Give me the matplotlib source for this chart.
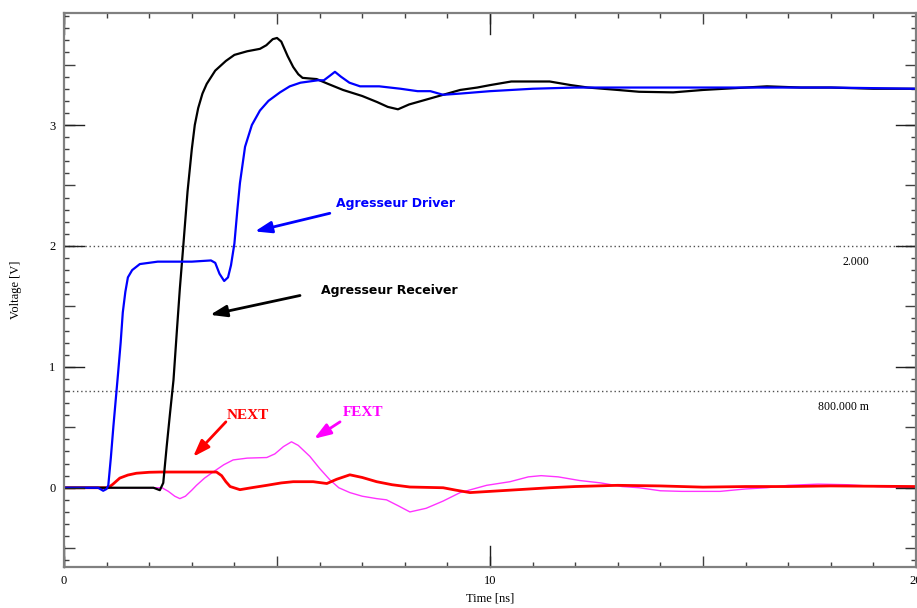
"""Crosstalk simulation: aggressor driver/receiver and NEXT/FEXT waveforms."""

from __future__ import annotations

import matplotlib

matplotlib.use("Agg")
import matplotlib.pyplot as plt
import numpy as np

# time [ns] / voltage [V] samples
DRIVER_T = [0, 0.8, 0.92, 1.0, 1.04, 1.1, 1.16, 1.22, 1.27, 1.33, 1.38, 1.44, 1.5, 1.6, 1.78,
            2.2, 3.0, 3.45, 3.55, 3.65, 3.76, 3.85, 3.92, 4.0, 4.07, 4.13, 4.25, 4.41, 4.6,
            4.8, 5.07, 5.3, 5.55, 5.96, 6.1, 6.25, 6.36, 6.5, 6.7, 6.95, 7.4, 7.9, 8.3, 8.6,
            8.9, 9.3, 10.0, 11.0, 12.0, 14.0, 16.0, 18.0, 20.0]
DRIVER_V = [0, 0, -0.025, -0.01, 0.02, 0.25, 0.51, 0.75, 0.95, 1.2, 1.45, 1.62, 1.74, 1.80, 1.85,
            1.87, 1.87, 1.88, 1.86, 1.77, 1.71, 1.74, 1.84, 2.02, 2.3, 2.52, 2.82, 3.0, 3.12,
            3.2, 3.27, 3.32, 3.35, 3.37, 3.37, 3.41, 3.44, 3.40, 3.35, 3.32, 3.32, 3.30, 3.28,
            3.28, 3.25, 3.26, 3.28, 3.30, 3.31, 3.31, 3.31, 3.31, 3.30]

RECEIVER_T = [0, 2.1, 2.25, 2.33, 2.41, 2.49, 2.57, 2.65, 2.72, 2.8, 2.9, 3.0, 3.07, 3.15, 3.25,
              3.35, 3.55, 3.8, 4.0, 4.3, 4.6, 4.75, 4.9, 5.0, 5.1, 5.25, 5.38, 5.5, 5.6, 5.93,
              6.2, 6.55, 7.0, 7.35, 7.6, 7.84, 8.1, 8.3, 8.6, 8.9, 9.3, 9.7, 10.0, 10.5, 11.4,
              11.9, 12.3, 13.0, 13.5, 14.3, 15.0, 16.0, 16.5, 17.3, 18.0, 19.0, 20.0]
RECEIVER_V = [0, 0, -0.02, 0.04, 0.34, 0.62, 0.89, 1.3, 1.65, 2.0, 2.45, 2.8, 3.0, 3.14, 3.26,
              3.34, 3.45, 3.53, 3.58, 3.61, 3.63, 3.66, 3.71, 3.72, 3.69, 3.57, 3.48, 3.42, 3.39,
              3.38, 3.34, 3.29, 3.24, 3.19, 3.15, 3.13, 3.17, 3.19, 3.22, 3.25, 3.29, 3.31, 3.33,
              3.36, 3.36, 3.33, 3.31, 3.29, 3.275, 3.27, 3.29, 3.31, 3.32, 3.31, 3.31, 3.30, 3.30]

NEXT_T = [0, 1.04, 1.15, 1.31, 1.5, 1.7, 2.0, 2.25, 3.58, 3.7, 3.8, 3.9, 4.13, 4.4, 4.76, 5.1,
          5.38, 5.85, 6.17, 6.4, 6.71, 7.0, 7.34, 7.7, 8.12, 8.9, 9.2, 9.53, 10.0, 10.47, 11.4,
          12.0, 13.0, 14.0, 15.0, 16.0, 17.0, 18.0, 20.0]
NEXT_V = [0, 0, 0.03, 0.08, 0.105, 0.12, 0.128, 0.13, 0.13, 0.10, 0.05, 0.01, -0.016, 0.0, 0.02,
          0.04, 0.05, 0.05, 0.035, 0.07, 0.107, 0.085, 0.05, 0.025, 0.006, 0.0, -0.02, -0.04,
          -0.03, -0.02, 0.0, 0.01, 0.02, 0.015, 0.005, 0.01, 0.01, 0.015, 0.01]

FEXT_T = [0, 2.3, 2.45, 2.6, 2.72, 2.85, 3.0, 3.11, 3.3, 3.5, 3.75, 3.97, 4.3, 4.76, 4.95, 5.15,
          5.34, 5.5, 5.77, 6.0, 6.24, 6.45, 6.71, 7.0, 7.34, 7.57, 7.85, 8.12, 8.5, 8.9, 9.3,
          9.92, 10.47, 10.9, 11.2, 11.6, 12.1, 12.6, 13.1, 13.5, 14.0, 14.5, 15.4, 16.0, 16.5,
          17.0, 17.7, 18.4, 19.1, 20.0]
FEXT_V = [0, 0, -0.03, -0.07, -0.09, -0.07, -0.02, 0.02, 0.08, 0.13, 0.19, 0.23, 0.245, 0.25,
          0.28, 0.34, 0.38, 0.35, 0.26, 0.16, 0.066, 0.0, -0.04, -0.07, -0.09, -0.1, -0.15, -0.2,
          -0.17, -0.11, -0.04, 0.02, 0.05, 0.09, 0.1, 0.09, 0.06, 0.04, 0.01, 0.0, -0.025, -0.03,
          -0.03, -0.01, 0.0, 0.02, 0.03, 0.025, 0.01, 0.0]

THRESHOLDS = [2.0, 0.8]
THRESHOLD_LABELS = ["2.000", "800.000 m"]

SERIF = ["Liberation Serif", "DejaVu Serif"]
SPINE = "#808080"


def draw_ticks(ax) -> None:
    ax.set_xlim(0, 20)
    ax.set_ylim(-0.653, 3.924)
    ax.set_xticks(np.arange(0, 21, 5))
    ax.set_xticks(np.arange(0, 21, 1), minor=True)
    ax.set_yticks(np.arange(-0.5, 4.0, 0.5))
    ax.set_yticks(np.arange(-0.6, 3.95, 0.1), minor=True)
    ax.set_xticklabels([f"{v:g}" if v % 10 == 0 else "" for v in np.arange(0, 21, 5)])
    ax.set_yticklabels([f"{v:g}" if v % 1 == 0 else "" for v in np.arange(-0.5, 4.0, 0.5)])
    ax.tick_params(which="both", direction="in", top=True, right=True, color="#404040",
                   labelsize=9, labelfontfamily=SERIF, pad=6)
    ax.tick_params(which="major", length=8, width=1)
    ax.tick_params(which="minor", length=3.5, width=1)

    # the labelled ticks are drawn longer in the original viewer
    xt = ax.get_xaxis_transform()
    yt = ax.get_yaxis_transform()
    for x in [0, 10, 20]:
        ax.plot([x, x], [0, 0.038], color="#202020", lw=1, transform=xt, clip_on=False)
        ax.plot([x, x], [1, 0.962], color="#202020", lw=1, transform=xt, clip_on=False)
    for y in [0, 1, 2, 3]:
        ax.plot([0, 0.023], [y, y], color="#202020", lw=1, transform=yt, clip_on=False)
        ax.plot([1, 0.977], [y, y], color="#202020", lw=1, transform=yt, clip_on=False)

    for side in ax.spines.values():
        side.set_color(SPINE)
        side.set_linewidth(1.6)


def annotate(ax) -> None:
    arrow = dict(arrowstyle="-|>,head_length=1.0,head_width=0.35", lw=2, shrinkA=0, shrinkB=0)
    notes = [
        ("Agresseur Driver", "blue", (7.77, 2.35), (6.24, 2.27), (4.48, 2.12), "sans"),
        ("Agresseur Receiver", "black", (7.63, 1.63), (5.54, 1.59), (3.43, 1.43), "sans"),
        ("NEXT", "red", (4.32, 0.6), (3.80, 0.545), (3.03, 0.256), "serif"),
        ("FEXT", "#ff00ff", (7.02, 0.625), (6.48, 0.545), (5.87, 0.405), "serif"),
    ]
    for text, color, pos, start, end, kind in notes:
        family = ["DejaVu Sans"] if kind == "sans" else SERIF
        ax.text(*pos, text, color=color, fontsize=9 if kind == "sans" else 11,
                fontweight="bold", family=family, ha="center", va="center")
        ax.annotate("", xy=end, xytext=start,
                    arrowprops=dict(arrow, color=color))


def main() -> None:
    fig = plt.figure(figsize=(9.17, 6.08), dpi=100)
    ax = fig.add_axes([64 / 917, 1 - 566.7 / 608, 852 / 917, 553.4 / 608])

    for level, label in zip(THRESHOLDS, THRESHOLD_LABELS):
        ax.axhline(level, color="#505050", lw=1, ls=(0, (1, 2)))
        ax.text(18.9, level - 0.13, label, fontsize=8.5, family=SERIF, ha="right", va="center")

    ax.plot(FEXT_T, FEXT_V, color="#ff33ff", lw=1.0)
    ax.plot(NEXT_T, NEXT_V, color="#ff0000", lw=2.0)
    ax.plot(RECEIVER_T, RECEIVER_V, color="black", lw=1.6)
    ax.plot(DRIVER_T, DRIVER_V, color="#0000ff", lw=1.6)

    draw_ticks(ax)
    annotate(ax)

    ax.set_xlabel("Time [ns]", family=SERIF, fontsize=9, labelpad=4)
    ax.set_ylabel("Voltage [V]", family=SERIF, fontsize=9, labelpad=20)

    fig.savefig("out.png", dpi=100)
    plt.close(fig)


if __name__ == "__main__":
    main()
